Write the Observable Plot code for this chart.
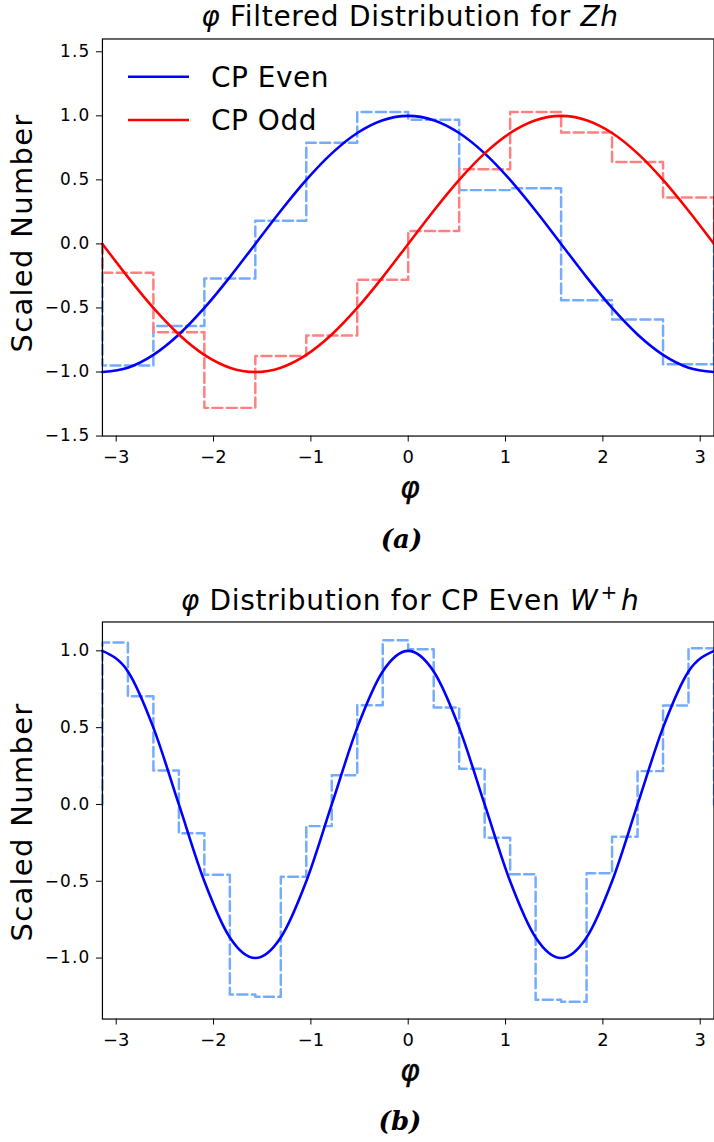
<!DOCTYPE html>
<html><head><meta charset="utf-8">
<script src="https://cdn.jsdelivr.net/npm/d3@7"></script>
<script src="https://cdn.jsdelivr.net/npm/@observablehq/plot@0.6"></script>
<style>
body{margin:0;background:#fff;}
#fig{position:relative;width:714px;height:1142px;overflow:hidden;background:#fff;}
#fig svg{position:absolute;left:0;}
</style></head><body><div id="fig"></div>
<script>
// ---- panel (a): φ filtered distribution for Zh ----
const binEdgesA = [-3.1416, -2.6180, -2.0944, -1.5708, -1.0472, -0.5236, 0, 0.5236, 1.0472, 1.5708, 2.0944, 2.6180, 3.1416];
const cpEvenHistA = [-0.95, -0.64, -0.27, 0.18, 0.79, 1.03, 0.97, 0.42, 0.435, -0.44, -0.59, -0.94];
const cpOddHistA  = [-0.225, -0.69, -1.28, -0.875, -0.715, -0.28, 0.10, 0.583, 1.03, 0.87, 0.64, 0.363];
const curvePhi = [-3.1416, -2.8798, -2.6180, -2.3562, -2.0944, -1.8326, -1.5708, -1.3090, -1.0472, -0.7854, -0.5236, -0.2618, 0, 0.2618, 0.5236, 0.7854, 1.0472, 1.3090, 1.5708, 1.8326, 2.0944, 2.3562, 2.6180, 2.8798, 3.1416];
const cpEvenCurveA = [-1, -0.966, -0.866, -0.707, -0.5, -0.259, 0, 0.259, 0.5, 0.707, 0.866, 0.966, 1, 0.966, 0.866, 0.707, 0.5, 0.259, 0, -0.259, -0.5, -0.707, -0.866, -0.966, -1];
const cpOddCurveA  = [0, -0.259, -0.5, -0.707, -0.866, -0.966, -1, -0.966, -0.866, -0.707, -0.5, -0.259, 0, 0.259, 0.5, 0.707, 0.866, 0.966, 1, 0.966, 0.866, 0.707, 0.5, 0.259, 0];
const yTicksA = [-1.5, -1.0, -0.5, 0.0, 0.5, 1.0, 1.5];
const yDomainA = [-1.5, 1.6];

// ---- panel (b): φ distribution for CP even W+h ----
const binEdgesB = [-3.1416, -2.8798, -2.6180, -2.3562, -2.0944, -1.8326, -1.5708, -1.3090, -1.0472, -0.7854, -0.5236, -0.2618, 0, 0.2618, 0.5236, 0.7854, 1.0472, 1.3090, 1.5708, 1.8326, 2.0944, 2.3562, 2.6180, 2.8798, 3.1416];
const cpEvenHistB = [1.054, 0.704, 0.221, -0.187, -0.458, -1.237, -1.252, -0.471, -0.141, 0.19, 0.646, 1.069, 1.011, 0.631, 0.232, -0.217, -0.454, -1.272, -1.285, -0.448, -0.21, 0.217, 0.644, 1.017];
const cpEvenCurveB = [1, 0.866, 0.5, 0, -0.5, -0.866, -1, -0.866, -0.5, 0, 0.5, 0.866, 1, 0.866, 0.5, 0, -0.5, -0.866, -1, -0.866, -0.5, 0, 0.5, 0.866, 1];
const yTicksB = [-1.0, -0.5, 0.0, 0.5, 1.0];
const yDomainB = [-1.397, 1.188];

const xTicks = [-3, -2, -1, 0, 1, 2, 3];
const seriesNames = ["CP Even", "CP Odd"];
const curveColors = ["#0000ff", "#ff0000"];
const histColors = ["#74abff", "#ff8080"];

function stepPoints(edges, vals) {
  const pts = [{x: edges[0], y: 0}];
  vals.forEach((v, i) => { pts.push({x: edges[i], y: v}); pts.push({x: edges[i + 1], y: v}); });
  pts.push({x: edges[edges.length - 1], y: 0});
  return pts;
}
function curvePoints(xs, ys) { return xs.map((x, i) => ({x, y: ys[i]})); }

function panel(yDomain, yTicks, hists, curves) {
  const marks = [];
  hists.forEach(h => marks.push(Plot.line(stepPoints(h.edges, h.vals), {x: "x", y: "y", stroke: h.color, strokeWidth: 2.5, strokeDasharray: "10,4.5"})));
  curves.forEach(c => marks.push(Plot.line(curvePoints(c.xs, c.ys), {x: "x", y: "y", stroke: c.color, strokeWidth: 2.6, curve: "monotone-x"})));
  marks.push(Plot.frame({stroke: "black", strokeWidth: 1.2}));
  marks.push(Plot.axisX({ticks: xTicks, tickSize: 6, tickPadding: 8, fontSize: 18, tickFormat: d3.format("d"), label: null}));
  marks.push(Plot.axisY({ticks: yTicks, tickSize: 6, tickPadding: 6, fontSize: 17, tickFormat: d3.format(".1f"), label: null}));
  const p = Plot.plot({
    width: 718, height: 478,
    marginLeft: 102.5, marginRight: 0.5, marginTop: 38.7, marginBottom: 40,
    style: {fontFamily: "DejaVu Sans", background: "transparent", color: "black", overflow: "visible"},
    x: {domain: [binEdgesA[0], binEdgesA[binEdgesA.length - 1]]},
    y: {domain: yDomain},
    marks
  });
  const yl = p.querySelector('g[aria-label="y-axis tick label"]');
  if (yl) yl.setAttribute("letter-spacing", "1.2");
  return p;
}

const fig = document.getElementById("fig");
const pa = panel(yDomainA, yTicksA,
  [{edges: binEdgesA, vals: cpEvenHistA, color: histColors[0]}, {edges: binEdgesA, vals: cpOddHistA, color: histColors[1]}],
  [{xs: curvePhi, ys: cpEvenCurveA, color: curveColors[0]}, {xs: curvePhi, ys: cpOddCurveA, color: curveColors[1]}]);
pa.style.top = "0px";
fig.appendChild(pa);
const pb = panel(yDomainB, yTicksB,
  [{edges: binEdgesB, vals: cpEvenHistB, color: histColors[0]}],
  [{xs: curvePhi, ys: cpEvenCurveB, color: curveColors[0]}]);
pb.style.top = "583.3px";
fig.appendChild(pb);

// overlay text: titles, labels, captions, legend
const ns = "http://www.w3.org/2000/svg";
const ov = document.createElementNS(ns, "svg");
ov.setAttribute("width", 714); ov.setAttribute("height", 1142);
ov.style.top = "0px";
ov.setAttribute("font-family", "DejaVu Sans");
ov.innerHTML = `
<text x="410" y="26" text-anchor="middle" font-size="28" letter-spacing="0.7"><tspan font-style="italic">φ</tspan> Filtered Distribution for <tspan font-style="italic">Zh</tspan></text>
<text x="410" y="610" text-anchor="middle" font-size="28" letter-spacing="0.7"><tspan font-style="italic">φ</tspan> Distribution for CP Even <tspan font-style="italic">W</tspan><tspan font-size="20" dy="-11" dx="2">+</tspan><tspan font-style="italic" dy="11" dx="3">h</tspan></text>
<text transform="translate(31.7,233) rotate(-90)" text-anchor="middle" font-size="29" letter-spacing="1.3">Scaled Number</text>
<text transform="translate(31.7,822) rotate(-90)" text-anchor="middle" font-size="29" letter-spacing="1.3">Scaled Number</text>
<text x="410" y="498" text-anchor="middle" font-size="30" font-style="italic" stroke="black" stroke-width="0.4">φ</text>
<text x="410" y="1081.3" text-anchor="middle" font-size="30" font-style="italic" stroke="black" stroke-width="0.4">φ</text>
<text x="401.5" y="548" text-anchor="middle" font-size="26" font-family="DejaVu Serif" font-weight="bold" font-style="italic">(a)</text>
<text x="400" y="1129.5" text-anchor="middle" font-size="26" font-family="DejaVu Serif" font-weight="bold" font-style="italic">(b)</text>
<line x1="128" x2="189" y1="76.7" y2="76.7" stroke="${curveColors[0]}" stroke-width="2.6"/>
<line x1="128" x2="189" y1="120" y2="120" stroke="${curveColors[1]}" stroke-width="2.6"/>
<text x="211" y="87" font-size="28" letter-spacing="0.5">${seriesNames[0]}</text>
<text x="211" y="130" font-size="28" letter-spacing="0.5">${seriesNames[1]}</text>
`;
fig.appendChild(ov);
</script>
</body></html>
